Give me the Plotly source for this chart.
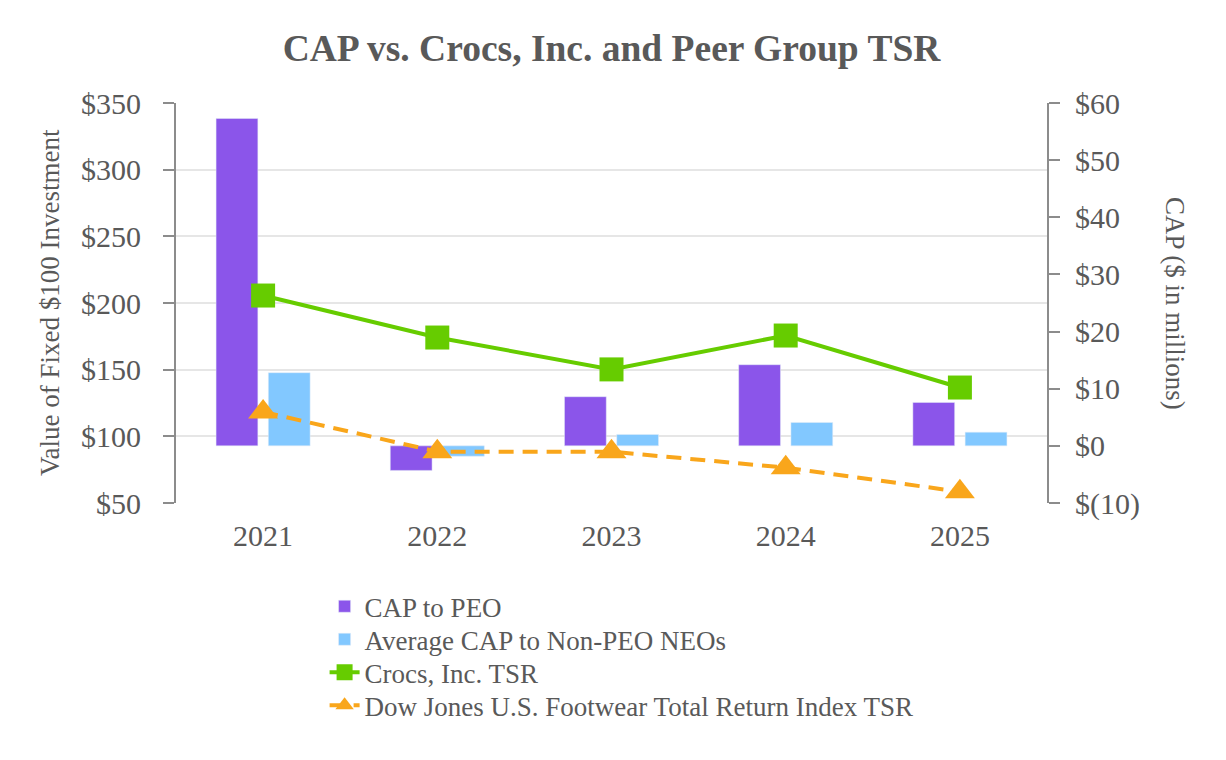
import plotly.graph_objects as go

years = ["2021", "2022", "2023", "2024", "2025"]
cap_peo = [57.3, -4.3, 8.6, 14.2, 7.6]
cap_non_peo = [12.8, -1.8, 2.0, 4.1, 2.4]
crocs_tsr = [205.6, 174.1, 150.2, 175.6, 136.6]
dj_tsr = [118.3, 88.5, 88.5, 76.5, 58.5]

left_ticks = [50, 100, 150, 200, 250, 300, 350]
left_labels = ["$50", "$100", "$150", "$200", "$250", "$300", "$350"]
right_ticks = [-10, 0, 10, 20, 30, 40, 50, 60]
right_labels = ["$(10)", "$0", "$10", "$20", "$30", "$40", "$50", "$60"]

FONT = "Liberation Serif"
GRAY = "#595959"
AXIS = "#8c8c8c"

fig = go.Figure()
fig.add_trace(go.Bar(x=years, y=cap_peo, name="CAP to PEO", marker_color="#8B55EA",
                     yaxis="y", xaxis="x", legend="legend", showlegend=True))
fig.add_trace(go.Bar(x=years, y=cap_non_peo, name="Average CAP to Non-PEO NEOs",
                     marker_color="#82C8FF", yaxis="y", xaxis="x", legend="legend2",
                     showlegend=True))
fig.add_trace(go.Scatter(x=years, y=crocs_tsr, name="Crocs, Inc. TSR", mode="lines+markers",
                         line=dict(color="#66CC00", width=4),
                         marker=dict(symbol="square", size=24, color="#66CC00"),
                         yaxis="y2", xaxis="x", legend="legend3", showlegend=True))
fig.add_trace(go.Scatter(x=years, y=dj_tsr, name="Dow Jones U.S. Footwear Total Return Index TSR",
                         mode="lines+markers",
                         line=dict(color="#F9A61B", width=4, dash="15px,9px"),
                         marker=dict(symbol="triangle-up", size=26, color="#F9A61B"),
                         yaxis="y2", xaxis="x", legend="legend4", showlegend=True))

PLOT_BOTTOM = 503.3
PLOT_H = 400.0
legend_rows = [607, 640, 673, 706]


def leg(row_y):
    return dict(orientation="v", x=0.1706, xanchor="left",
                y=(PLOT_BOTTOM - row_y) / PLOT_H, yanchor="middle", yref="paper",
                font=dict(size=27, color=GRAY, family=FONT), bgcolor="rgba(0,0,0,0)",
                visible=True)


fig.update_layout(
    width=1226, height=760,
    showlegend=True,
    margin=dict(l=168, r=187, t=95, b=265),
    paper_bgcolor="white", plot_bgcolor="white",
    font=dict(family=FONT, color=GRAY, size=26),
    barmode="group", bargap=0.4, bargroupgap=0.2,
    title=dict(text="CAP vs. Crocs, Inc. and Peer Group TSR", x=0.5, xref="paper",
               y=1 - 40 / 760, yref="container", yanchor="middle", xanchor="center",
               font=dict(family=FONT, size=37.5, color=GRAY, weight="bold")),
    xaxis=dict(type="category", showline=False, ticks="", showgrid=False,
               tickfont=dict(size=30, color=GRAY), ticklabelstandoff=12),
    yaxis=dict(side="right", range=[-10, 60], tickvals=right_ticks, ticktext=right_labels,
               showgrid=False, zeroline=False, showline=True, linecolor=AXIS, linewidth=2,
               ticks="outside", ticklen=11, tickwidth=2, tickcolor=AXIS,
               tickfont=dict(size=30, color=GRAY), ticklabelstandoff=9),
    yaxis2=dict(side="left", overlaying="y", range=[50, 350], tickvals=left_ticks,
                ticktext=left_labels, showgrid=True, gridcolor="#e6e6e6", gridwidth=2,
                zeroline=False, showline=True, linecolor=AXIS, linewidth=2,
                ticks="outside", ticklen=11, tickwidth=2, tickcolor=AXIS,
                tickfont=dict(size=30, color=GRAY), ticklabelstandoff=16),
    legend=leg(legend_rows[0]),
    legend2=leg(legend_rows[1]),
    legend3=leg(legend_rows[2]),
    legend4=leg(legend_rows[3]),
    annotations=[
        dict(text="Value of Fixed $100 Investment", textangle=-90, xref="paper", yref="paper",
             x=(50 - 176) / 871, y=0.5, xanchor="center", yanchor="middle", showarrow=False,
             font=dict(size=27, color=GRAY, family=FONT)),
        dict(text="CAP ($ in millions)", textangle=90, xref="paper", yref="paper",
             x=(1175 - 176) / 871, y=0.5, xanchor="center", yanchor="middle", showarrow=False,
             font=dict(size=27, color=GRAY, family=FONT)),
    ],
)

fig.write_html("out.html")
